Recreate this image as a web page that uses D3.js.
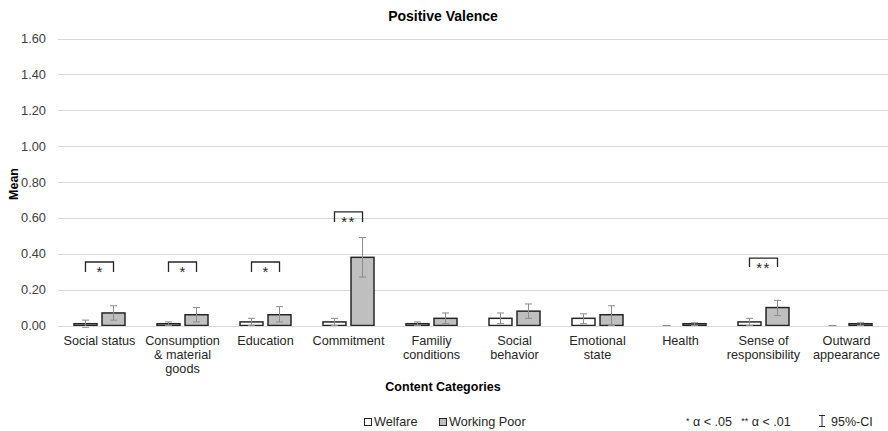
<!DOCTYPE html>
<html lang="en">
<head>
  <meta charset="UTF-8" />
  <title>Positive Valence</title>
  <script src="https://d3js.org/d3.v7.min.js"></script>
  <style>
    body { margin: 0; background: white; }
    svg text { font-family: "Liberation Sans", Arial, sans-serif; }
    .grid line { stroke: #d9d9d9; stroke-width: 1; }
    .tick text { fill: #404040; font-size: 12.8px; }
  </style>
</head>
<body>
  <svg id="chart" width="888" height="431"></svg>

  <script>
    const categories = [
      ["Social status"],
      ["Consumption", "& material", "goods"],
      ["Education"],
      ["Commitment"],
      ["Familiy", "conditions"],
      ["Social", "behavior"],
      ["Emotional", "state"],
      ["Health"],
      ["Sense of", "responsibility"],
      ["Outward", "appearance"]
    ];
    const series = ["Welfare", "Working Poor"];
    const welfareMean = [0.01, 0.01, 0.02, 0.02, 0.01, 0.04, 0.04, 0.00, 0.02, 0.00];
    const welfareLow  = [-0.01, 0.00, 0.00, 0.00, 0.00, 0.01, 0.01, 0.00, 0.00, 0.00];
    const welfareHigh = [0.03, 0.02, 0.04, 0.04, 0.02, 0.07, 0.065, 0.00, 0.04, 0.00];
    const poorMean = [0.07, 0.06, 0.06, 0.38, 0.04, 0.08, 0.06, 0.01, 0.10, 0.01];
    const poorLow  = [0.03, 0.02, 0.02, 0.27, 0.01, 0.04, 0.00, 0.00, 0.055, 0.00];
    const poorHigh = [0.11, 0.10, 0.105, 0.49, 0.07, 0.12, 0.11, 0.015, 0.14, 0.015];
    // significance brackets: category index, bracket top, leg bottom, label
    const sigIndex = [0, 1, 2, 3, 8];
    const sigTop = [0.354, 0.354, 0.354, 0.633, 0.376];
    const sigBottom = [0.298, 0.298, 0.298, 0.577, 0.326];
    const sigLabel = ["*", "*", "*", "**", "**"];
    const yTicks = [0, 0.2, 0.4, 0.6, 0.8, 1.0, 1.2, 1.4, 1.6];

    const svg = d3.select("#chart");
    const x = d3.scaleBand().domain(d3.range(categories.length)).range([58, 888]);
    const xSub = d3.scaleBand().domain(series).range([-25.5, 25.5]).paddingInner(0.18);
    const y = d3.scaleLinear().domain([0, 1.6]).range([325.5, 38.5]);
    const fills = { "Welfare": "#ffffff", "Working Poor": "#bfbfbf" };

    const rows = categories.map((c, i) => [
      { s: "Welfare", i, m: welfareMean[i], lo: welfareLow[i], hi: welfareHigh[i] },
      { s: "Working Poor", i, m: poorMean[i], lo: poorLow[i], hi: poorHigh[i] }
    ]).flat();

    // gridlines
    svg.append("g").attr("class", "grid")
      .selectAll("line").data(yTicks).join("line")
      .attr("x1", 58).attr("x2", 888)
      .attr("y1", d => Math.round(y(d)) + 0.5).attr("y2", d => Math.round(y(d)) + 0.5);

    // y axis
    const yAxis = svg.append("g")
      .attr("transform", "translate(49,0)")
      .call(d3.axisLeft(y).tickValues(yTicks).tickFormat(d3.format(".2f")).tickSize(0));
    yAxis.select(".domain").remove();
    yAxis.attr("font-family", null).attr("font-size", null);

    const cx = d => x(d.i) + x.bandwidth() / 2 + xSub(d.s) + xSub.bandwidth() / 2;

    // bars
    svg.append("g").selectAll("rect").data(rows.filter(d => d.m > 0)).join("rect")
      .attr("x", d => x(d.i) + x.bandwidth() / 2 + xSub(d.s))
      .attr("width", xSub.bandwidth())
      .attr("y", d => y(d.m))
      .attr("height", d => y(0) - y(d.m))
      .attr("fill", d => fills[d.s])
      .attr("stroke", "#262626")
      .attr("stroke-width", 1.5);

    // zero-value marks
    svg.append("g").selectAll("line").data(rows.filter(d => d.m === 0)).join("line")
      .attr("x1", d => cx(d) - 4).attr("x2", d => cx(d) + 4)
      .attr("y1", y(0)).attr("y2", y(0))
      .attr("stroke", "#8c8c8c");

    // error bars
    const eb = svg.append("g").attr("stroke", "#8c8c8c").attr("stroke-width", 1)
      .selectAll("g").data(rows.filter(d => d.hi > d.lo)).join("g");
    eb.append("line")
      .attr("x1", cx).attr("x2", cx)
      .attr("y1", d => y(d.lo)).attr("y2", d => y(d.hi));
    eb.append("line")
      .attr("x1", d => cx(d) - 3.5).attr("x2", d => cx(d) + 3.5)
      .attr("y1", d => y(d.hi)).attr("y2", d => y(d.hi));
    eb.append("line")
      .attr("x1", d => cx(d) - 3.5).attr("x2", d => cx(d) + 3.5)
      .attr("y1", d => y(d.lo)).attr("y2", d => y(d.lo));

    // x baseline
    svg.append("line")
      .attr("x1", 58).attr("x2", 888)
      .attr("y1", Math.round(y(0)) + 0.5).attr("y2", Math.round(y(0)) + 0.5)
      .attr("stroke", "#d9d9d9");

    // significance brackets
    const br = svg.append("g").selectAll("g").data(sigIndex).join("g");
    br.append("path")
      .attr("fill", "none").attr("stroke", "#262626").attr("stroke-width", 1.3)
      .attr("d", (c, k) => {
        const x1 = cx({ i: c, s: "Welfare" }), x2 = cx({ i: c, s: "Working Poor" });
        return `M${x1},${y(sigBottom[k])}V${y(sigTop[k])}H${x2}V${y(sigBottom[k])}`;
      });
    br.append("text")
      .attr("x", c => x(c) + x.bandwidth() / 2)
      .attr("y", (c, k) => y(sigTop[k]) + 15)
      .attr("text-anchor", "middle")
      .attr("font-size", 15).attr("fill", "#262626")
      .attr("letter-spacing", (c, k) => sigLabel[k].length > 1 ? 1.5 : 0)
      .text((c, k) => sigLabel[k]);

    // category labels
    svg.append("g").selectAll("text").data(categories).join("text")
      .attr("text-anchor", "middle")
      .attr("font-size", 12.7).attr("fill", "#262626")
      .attr("transform", (d, i) => `translate(${x(i) + x.bandwidth() / 2},${345})`)
      .selectAll("tspan").data(d => d).join("tspan")
      .attr("x", 0).attr("y", (d, j) => j * 14)
      .text(d => d);

    // titles
    svg.append("text").attr("x", 443).attr("y", 21).attr("text-anchor", "middle")
      .attr("font-size", 14).attr("font-weight", "bold").attr("fill", "#000")
      .text("Positive Valence");
    svg.append("text").attr("transform", "translate(18,184) rotate(-90)")
      .attr("text-anchor", "middle").attr("font-size", 12.5).attr("font-weight", "bold")
      .text("Mean");
    svg.append("text").attr("x", 443).attr("y", 391).attr("text-anchor", "middle")
      .attr("font-size", 12.5).attr("font-weight", "bold")
      .text("Content Categories");

    // legend
    const lg = svg.append("g").selectAll("g").data(series).join("g")
      .attr("transform", (d, i) => `translate(${i === 0 ? 364 : 439},0)`);
    lg.append("rect").attr("x", 0.5).attr("y", 418.5).attr("width", 7).attr("height", 7)
      .attr("fill", d => fills[d]).attr("stroke", "#262626");
    lg.append("text").attr("x", 10).attr("y", 426).attr("font-size", 12.7).attr("fill", "#262626")
      .text(d => d);

    // notes
    svg.append("text").attr("x", 686).attr("y", 426).attr("font-size", 12.5).attr("fill", "#262626")
      .html('<tspan font-size="9" dy="-2">*</tspan><tspan dy="2"> α &lt; .05 </tspan><tspan font-size="9" dx="6" dy="-2">**</tspan><tspan dy="2"> α &lt; .01</tspan>');
    const ci = svg.append("g").attr("stroke", "#262626").attr("stroke-width", 1);
    ci.append("line").attr("x1", 822).attr("x2", 822).attr("y1", 415).attr("y2", 427);
    ci.append("line").attr("x1", 819).attr("x2", 825).attr("y1", 415.5).attr("y2", 415.5);
    ci.append("line").attr("x1", 819).attr("x2", 825).attr("y1", 426.5).attr("y2", 426.5);
    svg.append("text").attr("x", 831).attr("y", 426).attr("font-size", 12.5).attr("fill", "#262626")
      .text("95%-CI");
  </script>
</body>
</html>
